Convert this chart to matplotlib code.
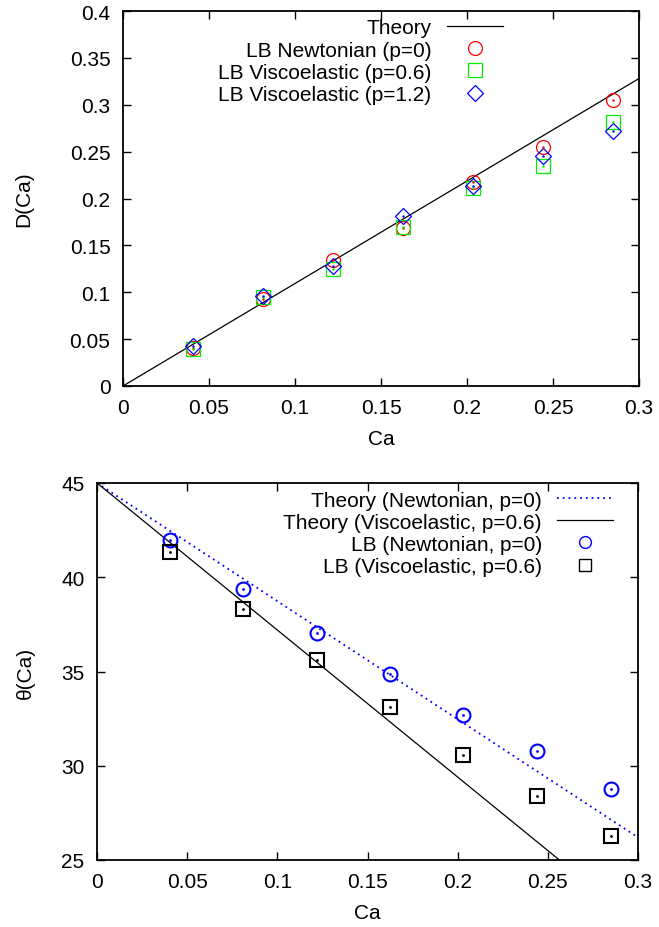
import numpy as np
import matplotlib
matplotlib.use("Agg")
import matplotlib.pyplot as plt

# Capillary numbers of the LB runs
ca = [0.0406, 0.0812, 0.1220, 0.1626, 0.2032, 0.2440, 0.2848]

# Deformation D(Ca)
d_newt = [0.0404, 0.0928, 0.1340, 0.1690, 0.2180, 0.2553, 0.3050]
d_visc06 = [0.0400, 0.0949, 0.1250, 0.1700, 0.2110, 0.2347, 0.2815]
d_visc12 = [0.0425, 0.0963, 0.1275, 0.1810, 0.2130, 0.2453, 0.2720]

# Orientation angle theta(Ca), degrees
th_newt = [41.95, 39.38, 37.06, 34.89, 32.71, 30.76, 28.78]
th_visc = [41.36, 38.32, 35.59, 33.10, 30.59, 28.40, 26.28]

# Theory lines (end points)
ca_theory = [0.0, 0.3]
d_theory = [0.0, 0.328]
th_theory_newt = [45.0, 26.2]
th_theory_visc = [45.0, 21.6]

FS = 15
plt.rcParams['font.family'] = ['Liberation Sans', 'DejaVu Sans']
plt.rcParams['font.size'] = FS

fig = plt.figure(figsize=(6.59, 9.28), dpi=100)
ax1 = fig.add_axes([123 / 659, 1 - 387 / 928, 516 / 659, 375 / 928])
ax2 = fig.add_axes([97 / 659, 1 - 861 / 928, 541 / 659, 377 / 928])


def style_axes(ax):
    for s in ax.spines.values():
        s.set_linewidth(1.3)
    ax.tick_params(direction='in', top=True, right=True, length=6, width=1.0,
                   labelsize=FS, pad=9)


leg_kw = dict(loc='upper right', frameon=False, markerfirst=False,
              handlelength=2.7, handletextpad=0.72, labelspacing=0.15,
              borderpad=0, borderaxespad=0, fontsize=FS)

# --- top panel: deformation ---
ax1.plot(ca_theory, d_theory, color='black', lw=0.9, label='Theory')
ax1.plot(ca, d_newt, ls='none', marker='o', ms=10, mfc='none', mec='red', mew=0.9,
         label='LB Newtonian (p=0)')
ax1.plot(ca, d_visc06, ls='none', marker='s', ms=10, mfc='none', mec='#00ee00', mew=0.9,
         label='LB Viscoelastic (p=0.6)')
ax1.plot(ca, d_visc12, ls='none', marker='D', ms=8, mfc='none', mec='blue', mew=0.9,
         label='LB Viscoelastic (p=1.2)')
# gnuplot-like centre dots
ax1.plot(ca, d_newt, ls='none', marker='.', ms=1.5, color='red')
ax1.plot(ca, d_visc06, ls='none', marker='.', ms=1.5, color='#00ee00')
ax1.plot(ca, d_visc12, ls='none', marker='.', ms=1.5, color='blue')

ax1.set_xlim(0, 0.3)
ax1.set_ylim(0, 0.4)
ax1.set_xticks(np.arange(0, 0.301, 0.05))
ax1.set_yticks(np.arange(0, 0.401, 0.05))
ax1.set_xticklabels(['0', '0.05', '0.1', '0.15', '0.2', '0.25', '0.3'])
ax1.set_yticklabels(['0', '0.05', '0.1', '0.15', '0.2', '0.25', '0.3', '0.35', '0.4'])
ax1.set_xlabel('Ca', labelpad=8)
ax1.set_ylabel('D(Ca)', labelpad=26)
style_axes(ax1)
ax1.legend(bbox_to_anchor=(0.736, 0.98), **leg_kw)

# --- bottom panel: orientation angle ---
ax2.plot(ca_theory, th_theory_newt, color='blue', lw=1.3, ls=(0, (1, 2.2)),
         label='Theory (Newtonian, p=0)')
ax2.plot(ca_theory, th_theory_visc, color='black', lw=0.9,
         label='Theory (Viscoelastic, p=0.6)')
ax2.plot(ca, th_newt, ls='none', marker='o', ms=10, mfc='none', mec='blue', mew=1.5,
         label='LB (Newtonian, p=0)')
ax2.plot(ca, th_visc, ls='none', marker='s', ms=9.5, mfc='none', mec='black', mew=1.5,
         label='LB (Viscoelastic, p=0.6)')
ax2.plot(ca, th_newt, ls='none', marker='.', ms=2, color='blue')
ax2.plot(ca, th_visc, ls='none', marker='.', ms=2, color='black')

ax2.set_xlim(0, 0.3)
ax2.set_ylim(25, 45)
ax2.set_xticks(np.arange(0, 0.301, 0.05))
ax2.set_yticks([25, 30, 35, 40, 45])
ax2.set_xticklabels(['0', '0.05', '0.1', '0.15', '0.2', '0.25', '0.3'])
ax2.set_xlabel('Ca', labelpad=8)
ax2.set_ylabel('θ(Ca)', labelpad=19)
style_axes(ax2)
leg2 = ax2.legend(bbox_to_anchor=(0.954, 0.98), **leg_kw)
for h in leg2.legend_handles[2:]:
    h.set_markeredgewidth(1.0)
    h.set_markersize(8.5)

fig.savefig('out.png', dpi=100)
